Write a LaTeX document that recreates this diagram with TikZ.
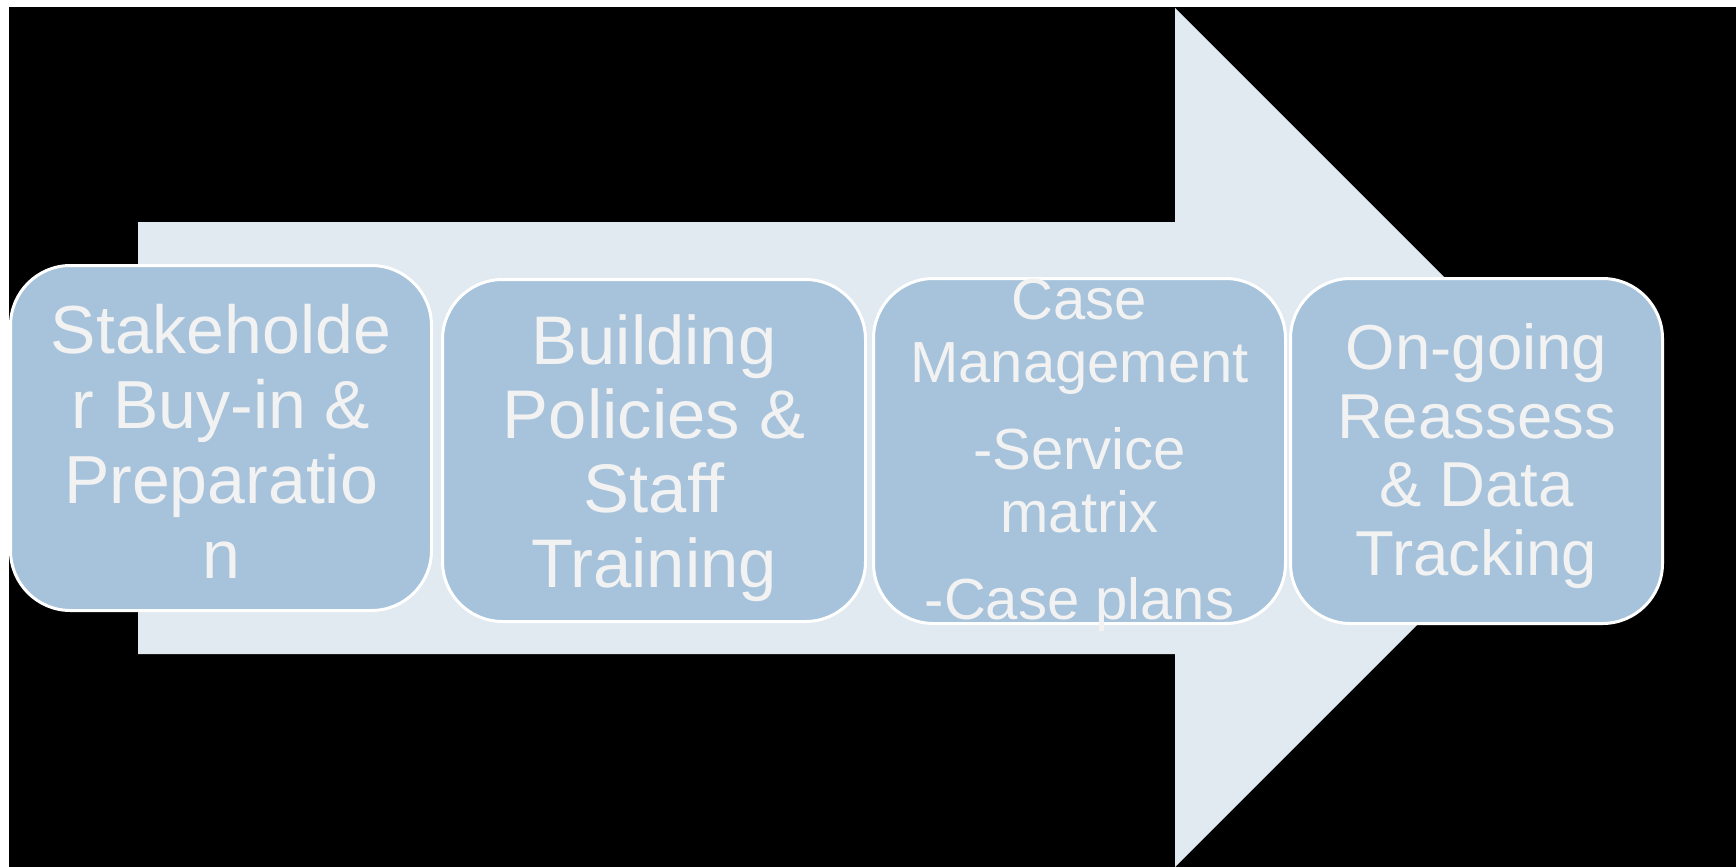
\documentclass[tikz,border=0pt]{standalone}
\usepackage{fontspec}
\setmainfont{Liberation Sans}
\definecolor{arrowfill}{HTML}{E1E9F1}
\definecolor{boxfill}{HTML}{A6C3DB}
\definecolor{boxtext}{HTML}{F2F2F2}
\begin{document}
\begin{tikzpicture}[x=0.5pt, y=-0.5pt,
		stepbox/.style = {shape=rectangle, rounded corners=30pt, draw=white, line width=1.5pt, fill=boxfill, inner sep=0pt},
		steptext/.style = {text=boxtext, align=center, inner sep=0pt}]
		\useasboundingbox (0,0) rectangle (1736,867);
		\fill[white] (0,0) rectangle (1736,867);
		\fill[black] (9,7) rectangle (1736,867);
		% process arrow behind the steps
		\fill[arrowfill] (138,222) -- (1175,222) -- (1175,8) -- (1604.5,437.5)
			-- (1175,867) -- (1175,654) -- (138,654) -- cycle;
		% steps
		\node[stepbox, minimum width=210.5pt, minimum height=172.5pt] (prep) at (221,438) {};
		\node[stepbox, minimum width=211.5pt, minimum height=171pt] (policies) at (654,450.5) {};
		\node[stepbox, minimum width=206pt, minimum height=172.5pt] (casemgmt) at (1079.5,451) {};
		\node[stepbox, minimum width=186pt, minimum height=172.5pt] (tracking) at (1476.5,451) {};
		\node[steptext, font=\fontsize{34}{37.5}\selectfont] (preptext) at (221,441) {Stakeholde\\r Buy-in \&\\Preparatio\\n};
		\node[steptext, font=\fontsize{34.4}{37.2}\selectfont] (policiestext) at (654,458) {Building\\Policies \&\\Staff\\Training};
		\node[steptext, font=\fontsize{29}{31.5}\selectfont] (casemgmttext) at (1079.5,455) {Case\\Management\\[12pt]-Service\\matrix\\[12pt]-Case plans};
		\node[steptext, font=\fontsize{31.75}{34.3}\selectfont] (trackingtext) at (1476.5,456) {On-going\\Reassess\\\& Data\\Tracking};
	\end{tikzpicture}
\end{document}
